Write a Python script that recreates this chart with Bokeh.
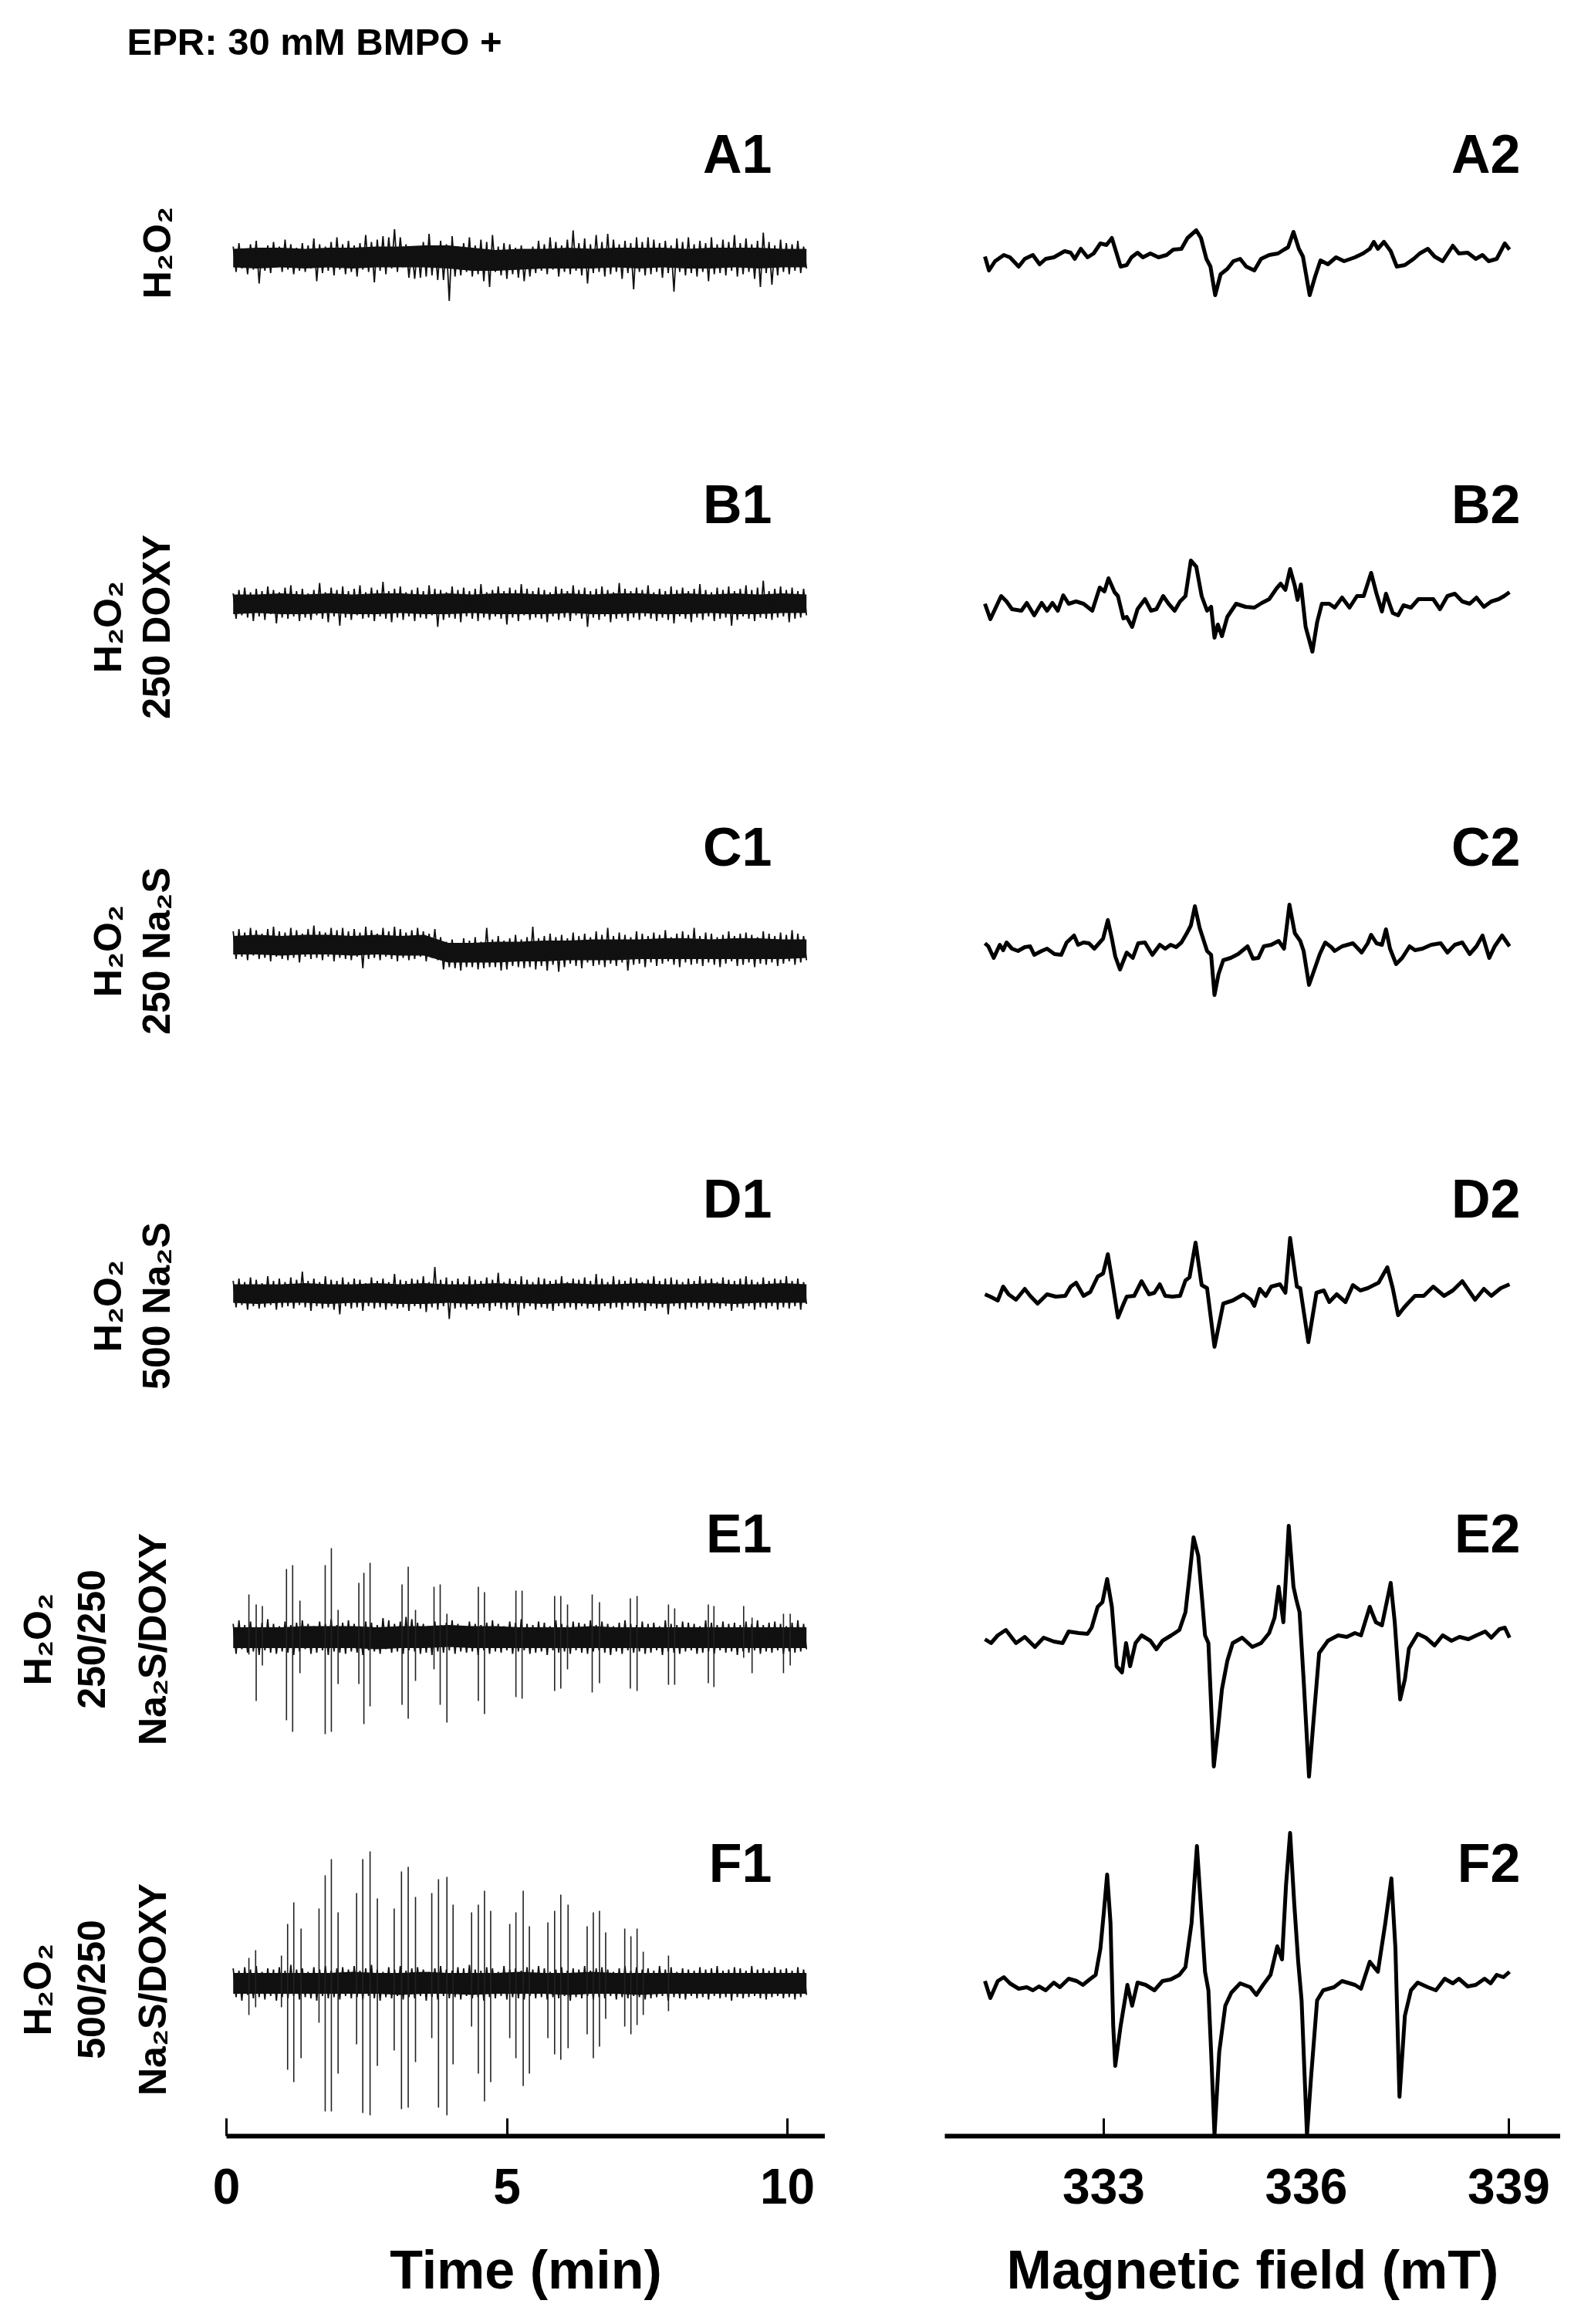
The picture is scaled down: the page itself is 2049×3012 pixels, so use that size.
import numpy as np
from bokeh.plotting import figure
from bokeh.models import Range1d, LinearAxis, FixedTicker
from bokeh.layouts import row, column
from bokeh.embed import file_html
from bokeh.resources import INLINE
from bokeh.core.properties import value

FONT = "Liberation Sans"

# ---------------- data ----------------
title_text = "EPR: 30 mM BMPO +"
time_ticks = [0, 5, 10]
field_ticks = [333, 336, 339]
time_title = "Time (min)"
field_title = "Magnetic field (mT)"
left_panel_labels = ["A1", "B1", "C1", "D1", "E1", "F1"]
right_panel_labels = ["A2", "B2", "C2", "D2", "E2", "F2"]
condition_labels = [
    ["H\u2082O\u2082"],
    ["H\u2082O\u2082", "250 DOXY"],
    ["H\u2082O\u2082", "250 Na\u2082S"],
    ["H\u2082O\u2082", "500 Na\u2082S"],
    ["H\u2082O\u2082", "250/250", "Na\u2082S/DOXY"],
    ["H\u2082O\u2082", "500/250", "Na\u2082S/DOXY"],
]

# kinetic traces: alternating max / min of the recorded signal (a.u.), 0.12 - 10.34 min
trace_time_span = (0.12, 10.34)
a1_signal = """10 -12 13 -9 8 -14 12 -10 15 -22 9 -11 11 -13 14 -8 10 -12 16 -10
12 -14 9 -11 13 -12 11 -9 17 -20 12 -13 10 -11 14 -15 18 -10 12 -14
15 -12 11 -16 13 -10 20 -12 14 -21 16 -11 19 -14 18 -9 25 -12 18 -8
12 -17 8 -18 10 -17 14 -16 21 -15 11 -19 15 -19 12 -37 19 -16 10 -15
13 -12 18 -16 11 -14 16 -20 14 -25 20 -12 10 -15 13 -18 12 -14 9 -17
11 -20 7 -16 10 -13 15 -11 12 -14 18 -10 14 -16 11 -12 16 -14 24 -11
13 -15 17 -22 12 -13 20 -12 14 -16 21 -14 16 -12 12 -18 15 -13 13 -27
18 -12 14 -15 18 -14 16 -12 13 -17 15 -13 11 -29 17 -12 14 -15 18 -13
12 -16 15 -12 13 -20 18 -14 12 -13 16 -15 14 -11 20 -16 13 -14 17 -12
12 -18 15 -25 22 -13 14 -23 11 -15 16 -12 13 -14 12 -11 15 -13 10 -9"""
b1_signal = """9 -13 12 -10 14 -12 10 -15 13 -11 11 -14 15 -9 12 -17 10 -12 14 -13
16 -11 11 -15 13 -12 9 -14 12 -10 18 -13 10 -16 14 -11 12 -19 15 -12
11 -14 13 -10 16 -13 10 -12 14 -15 12 -11 19 -13 11 -16 13 -12 15 -14
10 -11 12 -15 14 -12 11 -13 16 -10 13 -20 12 -14 10 -12 15 -13 12 -16
14 -11 11 -13 13 -15 17 -12 10 -14 12 -11 15 -13 11 -18 14 -12 12 -15
17 -10 13 -14 11 -12 14 -13 12 -16 10 -11 15 -14 13 -12 11 -15 16 -10
12 -13 14 -20 11 -12 13 -14 15 -11 12 -16 10 -13 18 -12 13 -15 11 -12
14 -14 12 -11 16 -13 10 -15 13 -12 11 -14 15 -17 12 -11 14 -13 11 -16
13 -12 17 -14 12 -11 10 -15 14 -13 12 -12 15 -19 11 -14 13 -11 16 -13
12 -15 14 -12 20 -13 11 -14 13 -12 15 -11 12 -16 14 -13 11 -12 13 -10"""
c1_signal = """15 -9 17 -7 14 -10 18 -6 16 -9 13 -8 17 -11 19 -7 15 -9 14 -10
18 -8 16 -12 13 -7 17 -9 20 -8 15 -10 14 -7 18 -11 16 -8 18 -9
15 -10 17 -7 14 -17 19 -9 16 -8 13 -10 18 -7 15 -9 19 -11 17 -8
14 -10 16 -9 18 -7 15 -11 13 -8 17 -10 10 -18 6 -16 8 -17 5 -19
9 -16 7 -16 10 -18 6 -17 18 -16 8 -16 11 -19 7 -18 9 -15 12 -16
8 -17 10 -16 19 -18 9 -15 11 -19 13 -14 10 -20 12 -16 9 -13 14 -15
11 -17 13 -12 10 -15 15 -14 12 -16 18 -13 11 -15 14 -12 12 -19 10 -14
15 -13 13 -16 11 -12 14 -15 12 -13 16 -11 10 -14 13 -16 15 -12 12 -14
18 -13 11 -15 14 -12 13 -14 10 -16 12 -13 15 -11 11 -15 13 -14 14 -12
12 -16 10 -13 15 -14 13 -12 11 -15 14 -13 12 -11 16 -14 13 -12 11 -10"""
d1_signal = """11 -12 13 -10 10 -14 14 -11 12 -13 9 -12 15 -10 11 -14 13 -12 10 -11
14 -13 12 -10 19 -12 11 -15 13 -11 10 -13 15 -12 12 -14 11 -18 14 -11
10 -13 13 -12 12 -15 9 -11 14 -13 11 -12 13 -14 10 -11 17 -13 12 -12
11 -15 13 -11 12 -13 15 -16 10 -12 23 -14 12 -11 14 -22 11 -13 13 -12
10 -14 15 -11 12 -13 11 -12 14 -15 12 -11 18 -13 10 -14 13 -12 11 -19
15 -13 12 -11 10 -14 14 -12 13 -13 11 -15 12 -11 15 -13 10 -12 13 -14
12 -11 14 -13 11 -12 17 -15 13 -11 10 -13 15 -12 12 -14 11 -11 14 -13
13 -12 10 -15 12 -11 15 -13 11 -12 13 -18 14 -11 12 -13 10 -14 13 -12
11 -13 15 -11 12 -14 13 -12 10 -13 14 -11 12 -15 11 -12 13 -13 15 -11
12 -14 10 -12 14 -13 11 -11 13 -14 12 -12 15 -13 11 -11 13 -14 10 -9"""
e1_signal = """12 -14 15 -10 11 -13 14 -12 10 -15 13 -11 16 -13 12 -14 10 -12 14 -13
11 -15 13 -12 15 -10 12 -14 10 -13 14 -11 12 -15 16 -12 11 -13 13 -14
15 -12 12 -13 10 -15 14 -11 13 -12 11 -14 17 -10 15 -13 12 -12 14 -14
18 -11 16 -12 13 -14 12 -13 10 -15 14 -12 11 -13 13 -11 15 -14 12 -12
10 -13 14 -12 12 -15 11 -11 13 -14 15 -12 12 -13 10 -11 14 -14 13 -12
16 -11 12 -14 11 -13 14 -12 13 -15 10 -11 15 -13 12 -12 11 -14 14 -11
13 -13 12 -14 15 -12 11 -11 14 -13 12 -15 10 -12 13 -14 15 -11 12 -13
11 -12 14 -14 12 -13 13 -11 10 -15 15 -12 12 -13 11 -14 14 -12 13 -11
12 -14 10 -13 15 -12 13 -14 11 -11 14 -13 12 -12 13 -15 11 -12 14 -13
12 -11 15 -14 11 -12 13 -13 14 -11 12 -14 10 -12 13 -13 15 -12 12 -10"""
f1_signal = """13 -12 11 -15 14 -10 12 -13 15 -12 10 -14 13 -11 12 -15 14 -12 11 -13
16 -11 12 -14 13 -12 10 -13 14 -15 12 -11 15 -13 11 -12 13 -14 14 -11
12 -13 15 -12 11 -14 13 -11 16 -13 12 -15 10 -12 14 -13 12 -11 15 -14
11 -12 13 -13 14 -11 12 -15 10 -12 13 -14 15 -11 12 -13 11 -12 14 -14
13 -11 16 -13 12 -12 11 -15 14 -12 13 -13 10 -11 15 -14 12 -12 13 -13
11 -14 14 -11 12 -13 15 -12 13 -14 10 -12 12 -13 14 -11 11 -15 13 -12
12 -13 15 -11 11 -14 13 -12 14 -13 12 -11 10 -14 13 -12 15 -13 11 -11
14 -12 12 -14 13 -13 11 -12 15 -11 12 -15 14 -12 10 -13 13 -14 12 -11
11 -13 14 -12 12 -14 13 -11 15 -13 11 -12 12 -15 14 -12 13 -13 11 -12
15 -11 12 -13 13 -14 11 -12 14 -11 12 -13 13 -12 11 -14 14 -12 12 -10"""

# dense core of each kinetic trace (upper / lower edge, a.u.), 25 readings over the same span
a1_core_hi = [8, 9, 9, 8, 9, 9, 10, 10, 11, 11, 9, 7, 8, 8, 9, 8, 9, 9, 9, 8, 9, 9, 9, 8, 8]
a1_core_lo = [-8, -9, -8, -9, -8, -9, -8, -8, -8, -9, -11, -11, -10, -9, -9, -9, -8, -9, -8, -9, -9, -8, -9, -8, -8]
b1_core_hi = [8, 8, 9, 8, 9, 8, 9, 9, 8, 9, 8, 9, 9, 8, 9, 8, 9, 9, 8, 9, 8, 9, 8, 9, 8]
b1_core_lo = [-9, -8, -9, -9, -8, -9, -9, -8, -9, -9, -8, -9, -9, -9, -8, -9, -9, -8, -9, -9, -8, -9, -9, -8, -8]
c1_core_hi = [11, 12, 11, 12, 12, 11, 12, 11, 12, 5, 5, 6, 6, 7, 7, 8, 8, 8, 9, 9, 8, 9, 9, 8, 8]
c1_core_lo = [-5, -5, -6, -5, -5, -6, -5, -6, -6, -12, -12, -12, -11, -11, -10, -10, -10, -9, -9, -9, -9, -9, -9, -9, -8]
d1_core_hi = [8, 8, 8, 9, 8, 8, 9, 8, 9, 8, 8, 9, 8, 8, 9, 8, 8, 9, 8, 8, 9, 8, 8, 9, 8]
d1_core_lo = [-8, -9, -8, -8, -9, -8, -8, -9, -9, -8, -9, -8, -8, -9, -8, -9, -8, -8, -9, -8, -8, -9, -8, -8, -8]
e1_core_hi = [9, 9, 9, 10, 10, 10, 9, 10, 10, 11, 10, 10, 9, 9, 9, 10, 9, 9, 9, 9, 9, 9, 9, 9, 9]
e1_core_lo = [-9, -9, -9, -9, -9, -9, -10, -9, -9, -8, -9, -9, -9, -9, -9, -9, -9, -9, -9, -9, -9, -9, -9, -9, -9]
f1_core_hi = [9, 9, 9, 9, 9, 10, 9, 9, 10, 9, 9, 9, 10, 9, 9, 10, 9, 9, 9, 9, 9, 9, 9, 9, 9]
f1_core_lo = [-9, -9, -9, -9, -9, -9, -9, -10, -9, -9, -10, -9, -9, -9, -10, -9, -9, -10, -9, -9, -9, -9, -9, -9, -9]

# oscillation spikes (time, positive excursion, negative excursion; px-equivalent a.u.)
e1_spike_time = [0.40, 0.53, 0.64, 1.07, 1.18, 1.31, 1.76, 1.87, 1.99, 2.36, 2.45, 2.56,
                 3.13, 3.24, 3.37, 3.70, 3.81, 3.93, 4.49, 4.60, 5.16, 5.27, 5.85, 5.96,
                 6.08, 6.52, 6.65, 7.20, 7.32, 7.88, 7.99, 8.59, 8.69, 9.22, 9.37, 9.93, 10.05]
e1_spike_up = [56, 43, 41, 89, 94, 48, 94, 116, 36, 71, 84, 97, 69, 92, 36, 66, 69, 31, 66, 59,
               61, 61, 54, 54, 43, 56, 46, 51, 54, 43, 38, 43, 41, 41, 26, 31, 31]
e1_spike_down = [22, 82, 36, 107, 122, 46, 125, 122, 60, 60, 112, 89, 87, 105, 56, 41, 87, 110,
                 82, 99, 77, 79, 69, 66, 41, 71, 59, 66, 69, 61, 61, 59, 64, 26, 46, 46, 36]
f1_spike_time = [0.40, 0.52, 0.98, 1.09, 1.20, 1.33, 1.65, 1.76, 1.87, 1.99, 2.32, 2.43, 2.56,
                 2.69, 2.99, 3.12, 3.24, 3.37, 3.66, 3.78, 3.93, 4.04, 4.37, 4.49, 4.60, 4.71,
                 5.05, 5.16, 5.29, 5.40, 5.73, 5.85, 5.96, 6.09, 6.43, 6.54, 6.65, 6.76, 7.10,
                 7.21, 7.32, 7.43, 7.88]
f1_spike_up = [33, 43, 36, 77, 105, 71, 97, 140, 161, 92, 117, 161, 171, 110, 97, 145, 151, 112,
               117, 135, 138, 102, 92, 102, 120, 94, 77, 92, 120, 74, 79, 94, 115, 102, 74, 92,
               94, 66, 71, 61, 71, 41, 36]
f1_spike_down = [41, 31, 31, 112, 128, 97, 51, 166, 166, 117, 79, 168, 171, 107, 87, 163, 161,
                 102, 71, 161, 171, 105, 56, 117, 153, 128, 71, 97, 133, 117, 71, 92, 99, 84, 66,
                 97, 82, 46, 56, 66, 54, 41, 36]

# EPR spectra: field (mT) and first-derivative intensity (a.u.)
a2_field = [331.24, 331.30, 331.39, 331.52, 331.61, 331.74, 331.83, 331.95, 332.05, 332.14,
            332.26, 332.42, 332.51, 332.57, 332.66, 332.76, 332.85, 332.95, 333.04, 333.12,
            333.19, 333.25, 333.34, 333.41, 333.50, 333.58, 333.69, 333.81, 333.93, 334.03,
            334.15, 334.24, 334.37, 334.44, 334.52, 334.58, 334.65, 334.73, 334.83, 334.92,
            335.02, 335.11, 335.23, 335.33, 335.45, 335.58, 335.67, 335.73, 335.81, 335.89,
            335.95, 336.05, 336.13, 336.21, 336.32, 336.44, 336.56, 336.72, 336.84, 336.94,
            337.00, 337.06, 337.15, 337.25, 337.34, 337.46, 337.59, 337.68, 337.80, 337.90,
            338.02, 338.17, 338.26, 338.39, 338.51, 338.61, 338.70, 338.82, 338.94, 339.01]
a2_int = [3, -15, -3, 5, 2, -10, 0, 5, -7, 0,
          2, 10, 8, 0, 13, 2, 7, 20, 18, 27,
          7, -10, -8, 2, 8, 2, 7, 2, 5, 12,
          13, 27, 37, 27, 0, -10, -47, -20, -13, -3,
          0, -10, -15, 0, 5, 7, 12, 15, 35, 13,
          3, -47, -23, -2, -7, 2, -3, 2, 7, 13,
          22, 13, 22, 10, -10, -8, 0, 7, 13, 3,
          -3, 17, 7, 8, 0, 5, -3, 0, 20, 12]
b2_field = [331.24, 331.32, 331.40, 331.48, 331.56, 331.64, 331.78, 331.86, 331.97, 332.08,
            332.16, 332.24, 332.32, 332.40, 332.48, 332.59, 332.70, 332.83, 332.94, 333.01,
            333.07, 333.16, 333.21, 333.29, 333.34, 333.42, 333.50, 333.61, 333.70, 333.78,
            333.88, 333.96, 334.05, 334.13, 334.21, 334.29, 334.37, 334.45, 334.53, 334.59,
            334.64, 334.69, 334.75, 334.83, 334.96, 335.10, 335.23, 335.34, 335.45, 335.56,
            335.62, 335.69, 335.76, 335.83, 335.87, 335.92, 335.99, 336.09, 336.16, 336.23,
            336.34, 336.42, 336.53, 336.64, 336.75, 336.85, 336.96, 337.04, 337.12, 337.18,
            337.28, 337.36, 337.44, 337.55, 337.66, 337.77, 337.88, 337.98, 338.09, 338.20,
            338.31, 338.42, 338.52, 338.63, 338.74, 338.85, 338.93, 339.01]
b2_int = [2, -18, -3, 12, 5, -5, -7, 3, -13, 3,
          -7, 3, -7, 13, 2, 5, 2, -7, 23, 18,
          35, 17, 12, -17, -15, -28, -5, 8, -7, -5,
          12, 2, -7, 5, 12, 58, 50, 12, -7, -2,
          -42, -25, -40, -15, 2, -2, -3, 3, 8, 22,
          28, 20, 47, 25, 7, 27, -28, -60, -22, 2,
          2, -3, 10, -3, 12, 12, 42, 15, -8, 15,
          -10, -13, 0, -3, 8, 8, 8, -5, 12, 15,
          5, 2, 10, -2, 5, 8, 12, 17]
c2_field = [331.24, 331.29, 331.37, 331.46, 331.51, 331.56, 331.64, 331.73, 331.83, 331.91,
            331.97, 332.08, 332.16, 332.27, 332.37, 332.45, 332.56, 332.62, 332.70, 332.78,
            332.86, 332.99, 333.06, 333.12, 333.17, 333.24, 333.34, 333.43, 333.51, 333.61,
            333.72, 333.83, 333.91, 333.99, 334.07, 334.15, 334.23, 334.29, 334.35, 334.42,
            334.53, 334.59, 334.64, 334.70, 334.77, 334.88, 334.99, 335.13, 335.21, 335.29,
            335.37, 335.48, 335.59, 335.67, 335.75, 335.83, 335.91, 335.96, 336.04, 336.12,
            336.20, 336.28, 336.37, 336.42, 336.53, 336.69, 336.82, 336.91, 336.96, 337.04,
            337.12, 337.18, 337.24, 337.33, 337.42, 337.53, 337.61, 337.72, 337.85, 337.99,
            338.09, 338.20, 338.31, 338.42, 338.52, 338.61, 338.71, 338.79, 338.90, 339.01]
c2_int = [7, 3, -12, 5, -2, 8, 0, -3, 2, 3,
          -8, -3, 0, -7, -8, 8, 17, 5, 8, 7,
          0, 13, 37, 13, -10, -27, -5, -12, 7, 8,
          -8, 5, 0, 5, 2, 8, 20, 30, 55, 27,
          -3, -8, -60, -33, -15, -12, -7, 3, -13, -12,
          3, 5, 10, 0, 57, 20, 10, -3, -47, -27,
          -7, 8, 2, -3, 3, 7, -5, 7, 18, 7,
          5, 25, 0, -20, -12, 3, -2, 0, 5, 7,
          -5, 5, 8, -7, 3, 17, -12, 3, 17, 3]
d2_field = [331.24, 331.32, 331.43, 331.51, 331.59, 331.70, 331.83, 331.91, 332.02, 332.16,
            332.29, 332.43, 332.51, 332.59, 332.70, 332.80, 332.91, 332.99, 333.06, 333.13,
            333.21, 333.29, 333.34, 333.45, 333.56, 333.67, 333.75, 333.83, 333.91, 334.02,
            334.13, 334.21, 334.27, 334.36, 334.45, 334.53, 334.64, 334.77, 334.91, 335.07,
            335.18, 335.23, 335.31, 335.40, 335.48, 335.61, 335.69, 335.76, 335.86, 335.91,
            336.03, 336.15, 336.26, 336.34, 336.45, 336.58, 336.69, 336.80, 336.91, 337.07,
            337.20, 337.28, 337.36, 337.44, 337.50, 337.61, 337.74, 337.88, 338.04, 338.17,
            338.31, 338.50, 338.63, 338.74, 338.88, 339.01]
d2_int = [0, -3, -8, 10, 0, -7, 7, -2, -12, 0,
          -3, -2, 10, 15, -2, 3, 23, 27, 52, 15,
          -30, -13, -3, -2, 17, 0, 2, 13, -2, -3,
          -2, 18, 22, 67, 12, 8, -68, -12, -8, 0,
          -7, -15, 7, -2, 10, 13, 2, 73, 10, 8,
          -62, 2, 5, -10, 0, -10, 12, 5, 8, 15,
          35, 8, -27, -18, -12, -2, -2, 10, -2, 5,
          17, -7, 7, -2, 8, 13]
e2_field = [331.24, 331.33, 331.43, 331.55, 331.70, 331.83, 331.98, 332.11, 332.26, 332.39,
            332.48, 332.63, 332.76, 332.82, 332.91, 332.98, 333.05, 333.12, 333.19, 333.27,
            333.33, 333.39, 333.47, 333.56, 333.69, 333.78, 333.87, 334.00, 334.12, 334.21,
            334.27, 334.33, 334.40, 334.46, 334.50, 334.55, 334.63, 334.69, 334.75, 334.83,
            334.91, 335.05, 335.20, 335.33, 335.45, 335.53, 335.59, 335.66, 335.74, 335.81,
            335.85, 335.90, 335.96, 336.04, 336.11, 336.19, 336.32, 336.47, 336.60, 336.72,
            336.81, 336.94, 337.03, 337.12, 337.25, 337.31, 337.39, 337.46, 337.52, 337.65,
            337.77, 337.90, 338.02, 338.15, 338.27, 338.40, 338.52, 338.65, 338.74, 338.86,
            338.94, 339.01]
e2_int = [0, -5, 5, 12, -5, 3, -10, 2, -3, -5,
          10, 8, 7, 15, 42, 48, 78, 42, -35, -43,
          -5, -35, -5, 5, -2, -13, -2, 5, 12, 35,
          82, 132, 108, 48, 5, -5, -165, -118, -65, -28,
          -5, 2, -10, -5, 8, 28, 68, 22, 147, 68,
          52, 35, -52, -178, -102, -18, -2, 5, 3, 8,
          5, 42, 22, 18, 73, 22, -78, -52, -12, 7,
          2, -8, 5, -2, 3, 0, 5, 10, 2, 13,
          15, 2]
f2_field = [331.24, 331.32, 331.43, 331.52, 331.61, 331.74, 331.86, 331.95, 332.04, 332.14,
            332.26, 332.35, 332.48, 332.60, 332.69, 332.79, 332.88, 332.95, 333.00, 333.05,
            333.10, 333.14, 333.17, 333.25, 333.35, 333.42, 333.50, 333.62, 333.75, 333.87,
            333.99, 334.12, 334.21, 334.30, 334.38, 334.43, 334.50, 334.55, 334.59, 334.64,
            334.71, 334.80, 334.89, 335.02, 335.17, 335.26, 335.36, 335.47, 335.57, 335.64,
            335.70, 335.76, 335.82, 335.88, 335.93, 336.01, 336.07, 336.16, 336.25, 336.41,
            336.53, 336.72, 336.81, 336.94, 337.06, 337.17, 337.26, 337.32, 337.38, 337.46,
            337.55, 337.65, 337.80, 337.92, 338.05, 338.17, 338.26, 338.39, 338.51, 338.64,
            338.73, 338.82, 338.92, 339.01]
f2_int = [5, -17, 5, 10, 2, -5, -3, -7, -2, -7,
          3, -3, 8, 5, 0, 7, 13, 47, 93, 143,
          80, -53, -105, -53, 0, -27, 3, 0, -7, 5,
          7, 13, 23, 80, 180, 113, 17, -7, -87, -195,
          -87, -27, -10, 2, -3, -13, 0, 13, 50, 33,
          130, 197, 107, 30, -20, -195, -120, -20, -7, -3,
          5, 0, -5, 30, 17, 80, 138, 47, -145, -40,
          -7, 3, -3, -7, 8, 2, 8, -2, 0, 8,
          2, 13, 10, 17]

# ---------------- layout (page pixels) ----------------
PAGE_LEFT = 8
TOP_STRIP_H = 90            # title strip: page y 8 .. 98
ROW_TOP = PAGE_LEFT + TOP_STRIP_H
TITLE_BASELINE = 61
AXIS_Y = 2776               # page y of both axis lines
L_AXIS = (301, 1077)        # page x extent of time axis
R_AXIS = (1232, 2030)       # page x extent of field axis
LAB_W = 273                 # label strip page x 8 .. 281
TRACE_GAIN = 1.5            # px per a.u. for the kinetic traces (spikes are in px already)
TRACE_BASE = [342, 790, 1237, 1684, 2130, 2578]
SPEC_BASE = [343, 792, 1237, 1685, 2132, 2580]
PANEL_LABEL_BASELINE = [207, 661, 1105, 1561, 1995, 2422]
LEFT_LABEL_RIGHT_X = 1008
RIGHT_LABEL_RIGHT_X = 1978
COND_CENTER_Y = [335, 820, 1240, 1700, 2132, 2586]
COND_X = {1: [211], 2: [147, 210], 3: [56, 126, 205]}

T_SCALE = 72.7
F_SCALE, F_REF, F_REF_X = 87.5, 333.0, 1438.0
FRAME_H = AXIS_Y - ROW_TOP


def yv(page_y):
    return AXIS_Y - page_y


def tv(page_x):
    return (page_x - L_AXIS[0]) / T_SCALE


def fv(page_x):
    return F_REF + (page_x - F_REF_X) / F_SCALE


def base_fig(frame_w, frame_h, xr, yr, **kw):
    p = figure(frame_width=frame_w, frame_height=frame_h, x_range=xr, y_range=yr,
               x_axis_type=None, y_axis_type=None, output_backend="svg",
               toolbar_location=None, min_border_top=0, min_border_bottom=0,
               background_fill_color="white", border_fill_color="white", **kw)
    p.outline_line_color = None
    return p


def style_axis(ax):
    ax.axis_line_width = 6
    ax.axis_line_color = "black"
    ax.major_tick_line_width = 3
    ax.major_tick_line_color = "black"
    ax.major_tick_in = 23
    ax.major_tick_out = 0
    ax.minor_tick_line_color = None
    ax.major_label_text_font = FONT
    ax.major_label_text_font_size = "64px"
    ax.major_label_text_font_style = "bold"
    ax.major_label_text_color = "black"
    ax.major_label_standoff = 42
    ax.axis_label_text_font = FONT
    ax.axis_label_text_font_size = "70px"
    ax.axis_label_text_font_style = "bold"
    ax.axis_label_text_color = "black"
    ax.axis_label_standoff = 44


# title strip
pTop = base_fig(R_AXIS[1] - PAGE_LEFT, TOP_STRIP_H, Range1d(PAGE_LEFT, R_AXIS[1]),
                Range1d(ROW_TOP, PAGE_LEFT), min_border_left=0, min_border_right=0)
pTop.text(x=[172], y=[TITLE_BASELINE], text=[title_text], text_font=value(FONT),
          text_font_style="bold", text_font_size="49px", text_align="left",
          text_baseline="alphabetic", text_color="black")

# condition label strip
pLab = base_fig(LAB_W, FRAME_H, Range1d(PAGE_LEFT, PAGE_LEFT + LAB_W), Range1d(0, FRAME_H),
                min_border_left=0, min_border_right=0)

# kinetic panel
gapL = L_AXIS[0] - (PAGE_LEFT + LAB_W)
pL = base_fig(L_AXIS[1] - L_AXIS[0], FRAME_H, Range1d(tv(L_AXIS[0]), tv(L_AXIS[1])),
              Range1d(0, FRAME_H), min_border_left=gapL, min_border_right=0)
# spectra panel
gapR = R_AXIS[0] - L_AXIS[1]
pR = base_fig(R_AXIS[1] - R_AXIS[0], FRAME_H, Range1d(fv(R_AXIS[0]), fv(R_AXIS[1])),
              Range1d(0, FRAME_H), min_border_left=gapR, min_border_right=0)

axL = LinearAxis(ticker=FixedTicker(ticks=time_ticks), axis_label=time_title)
style_axis(axL)
pL.add_layout(axL, "below")
axR = LinearAxis(ticker=FixedTicker(ticks=field_ticks), axis_label=field_title)
style_axis(axR)
pR.add_layout(axR, "below")

# kinetic traces
signals = [a1_signal, b1_signal, c1_signal, d1_signal, e1_signal, f1_signal]
cores = [(a1_core_hi, a1_core_lo), (b1_core_hi, b1_core_lo), (c1_core_hi, c1_core_lo),
         (d1_core_hi, d1_core_lo), (e1_core_hi, e1_core_lo), (f1_core_hi, f1_core_lo)]
for sig, (chi, clo), base in zip(signals, cores, TRACE_BASE):
    tc = np.linspace(trace_time_span[0], trace_time_span[1], len(chi))
    pL.varea(x=tc, y1=yv(base) + TRACE_GAIN * np.array(clo, float),
             y2=yv(base) + TRACE_GAIN * np.array(chi, float), fill_color="#111111")
    vals = np.array(sig.split(), dtype=float)
    t = np.linspace(trace_time_span[0], trace_time_span[1], len(vals))
    pL.line(t, yv(base) + TRACE_GAIN * vals, line_color="#111111", line_width=1.8)

for ts, up, dn, base in [(e1_spike_time, e1_spike_up, e1_spike_down, TRACE_BASE[4]),
                         (f1_spike_time, f1_spike_up, f1_spike_down, TRACE_BASE[5])]:
    ts = np.array(ts)
    pL.segment(x0=ts, y0=yv(base) + np.array(up), x1=ts, y1=yv(base) - np.array(dn),
               line_color="#222222", line_width=1.6)

# spectra
spectra = [(a2_field, a2_int), (b2_field, b2_int), (c2_field, c2_int),
           (d2_field, d2_int), (e2_field, e2_int), (f2_field, f2_int)]
for (fx, fy), base in zip(spectra, SPEC_BASE):
    pR.line(fx, yv(base) + np.array(fy, dtype=float), line_color="black", line_width=5,
            line_join="round")

# panel letters
pL.text(x=[tv(LEFT_LABEL_RIGHT_X)] * 6, y=[yv(b) for b in PANEL_LABEL_BASELINE],
        text=left_panel_labels, text_font=value(FONT), text_font_style="bold",
        text_font_size="70px", text_align="right", text_baseline="alphabetic",
        text_color="black")
pR.text(x=[fv(RIGHT_LABEL_RIGHT_X)] * 6, y=[yv(b) for b in PANEL_LABEL_BASELINE],
        text=right_panel_labels, text_font=value(FONT), text_font_style="bold",
        text_font_size="70px", text_align="right", text_baseline="alphabetic",
        text_color="black")

# rotated condition labels
cx, cy, ct = [], [], []
for lines, yc in zip(condition_labels, COND_CENTER_Y):
    for xpage, txt in zip(COND_X[len(lines)], lines):
        cx.append(xpage)
        cy.append(yv(yc))
        ct.append(txt)
pLab.text(x=cx, y=cy, text=ct, angle=np.pi / 2, text_font=value(FONT),
          text_font_style="bold", text_font_size="50px", text_align="center",
          text_baseline="middle", text_color="black")

layout = column(pTop, row(pLab, pL, pR, spacing=0), spacing=0)
open("out.html", "w").write(file_html(layout, INLINE))
